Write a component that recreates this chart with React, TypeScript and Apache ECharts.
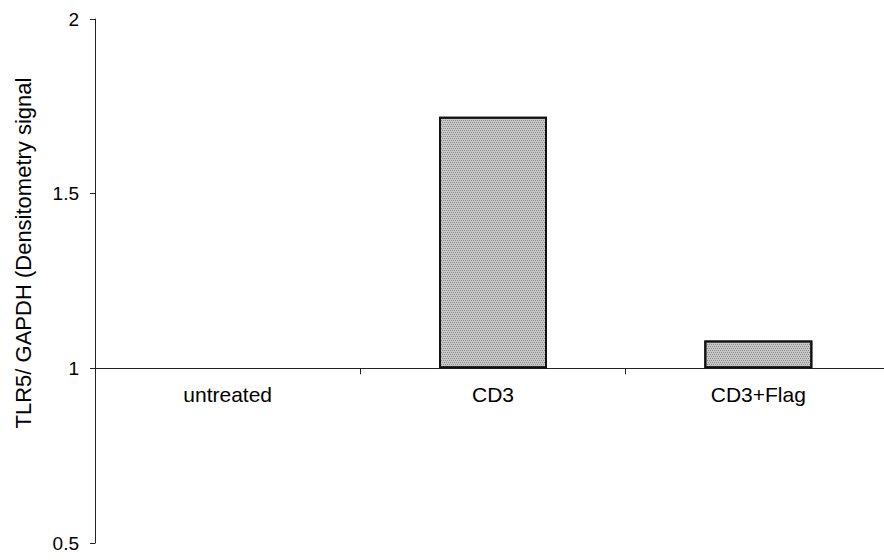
import React, { useEffect, useRef } from "react";
import * as echarts from "echarts";

const categories = ["untreated", "CD3", "CD3+Flag"];
const ratioValues = [1, 1.72, 1.08];
const baseline = 1;
const yMin = 0.5;
const yMax = 2;
const yStep = 0.5;
const yTitle = "TLR5/ GAPDH (Densitometry signal";

export default function App() {
  const ref = useRef<HTMLDivElement>(null);
  useEffect(() => {
    if (!ref.current) return;
    const chart = echarts.init(ref.current, null, { renderer: "svg" });
    const font = "Liberation Sans, Arial, sans-serif";
    const gridTop = 19;
    const gridBottom = 17;
    const gridHeight = 560 - gridTop - gridBottom;
    const baselineOffset = -gridHeight * ((baseline - yMin) / (yMax - yMin));
    chart.setOption({
      animation: false,
      backgroundColor: "#ffffff",
      grid: {
        left: 95,
        top: gridTop,
        width: 796,
        bottom: gridBottom,
        containLabel: false,
        outerBoundsMode: "none",
      },
      xAxis: {
        type: "category",
        data: categories,
        position: "bottom",
        offset: baselineOffset,
        axisLine: { onZero: false, lineStyle: { color: "#222", width: 1 } },
        axisTick: { show: true, length: 6, lineStyle: { color: "#222" } },
        axisLabel: { color: "#000", fontFamily: font, fontSize: 21, margin: 16 },
        splitLine: { show: false },
      },
      yAxis: {
        type: "value",
        min: yMin - baseline,
        max: yMax - baseline,
        interval: yStep,
        axisLine: { show: true, lineStyle: { color: "#222", width: 1 } },
        axisTick: { show: true, length: 5, lineStyle: { color: "#222" } },
        axisLabel: {
          color: "#000",
          fontFamily: font,
          fontSize: 19,
          margin: 16,
          formatter: (v: number) => String(Math.round((v + baseline) * 100) / 100),
        },
        splitLine: { show: false },
      },
      graphic: [
        {
          type: "text",
          x: 23,
          y: 253,
          rotation: Math.PI / 2,
          style: {
            text: yTitle,
            fill: "#000",
            font: `22px ${font}`,
            align: "center",
            verticalAlign: "middle",
          },
        },
      ],
      series: [
        {
          type: "bar",
          data: ratioValues.map((v) => (v - baseline === 0 ? "-" : v - baseline)),
          barWidth: 108,
          itemStyle: {
            color: "#c6c6c6",
            borderColor: "#111",
            borderWidth: 2,
            decal: {
              symbol: "rect",
              symbolSize: 1,
              color: "#8f8f8f",
              dashArrayX: [[1, 1], [0, 1, 1, 0]],
              dashArrayY: [1, 1],
            },
          },
        },
      ],
    });
    return () => chart.dispose();
  }, []);
  return (
    <div
      ref={ref}
      style={{ position: "fixed", left: 0, top: 0, width: 884, height: 560, background: "#fff" }}
    />
  );
}
